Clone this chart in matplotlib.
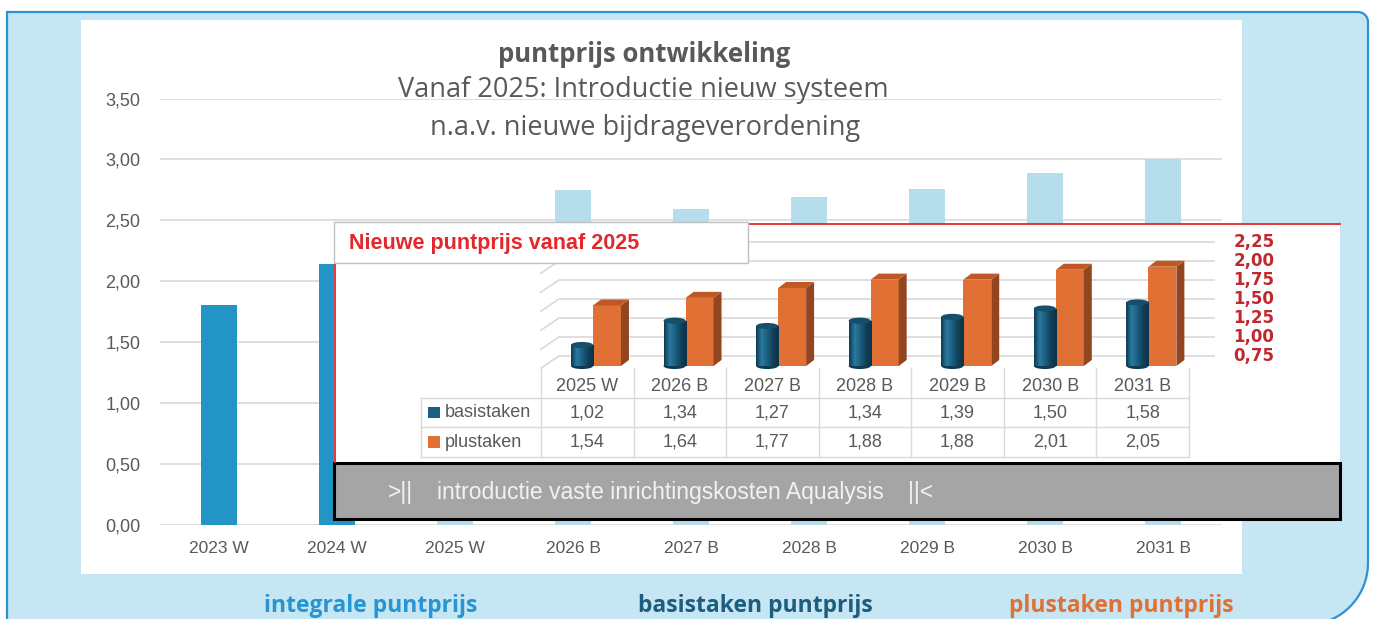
import numpy as np
import matplotlib.pyplot as plt
from matplotlib.patches import Rectangle, Polygon, Ellipse
from matplotlib.colors import LinearSegmentedColormap

W, H = 1375, 619

# hoofdgrafiek: integrale puntprijs
jaren = ["2023 W", "2024 W", "2025 W", "2026 B", "2027 B", "2028 B", "2029 B", "2030 B", "2031 B"]
integraal = [1.80, 2.14, 2.35, 2.75, 2.59, 2.69, 2.76, 2.89, 3.00]
y_ticks = [0.0, 0.5, 1.0, 1.5, 2.0, 2.5, 3.0, 3.5]

# inzet: nieuwe puntprijs vanaf 2025
jaren_nieuw = ["2025 W", "2026 B", "2027 B", "2028 B", "2029 B", "2030 B", "2031 B"]
basistaken = [1.02, 1.34, 1.27, 1.34, 1.39, 1.50, 1.58]
plustaken = [1.54, 1.64, 1.77, 1.88, 1.88, 2.01, 2.05]
inset_ticks = [0.75, 1.00, 1.25, 1.50, 1.75, 2.00, 2.25]

GRIJS = "#595959"
LIJN = "#d9d9d9"
BLAUW = "#2394c6"
LICHTBLAUW = "#b6ddec"
PETROL = "#1b5f82"
ORANJE = "#e07033"
ROOD = "#e3272b"
DONKERROOD = "#c0282e"
ACHTERGROND = "#c6e6f3"


def nl(v):
    return f"{v:.2f}".replace(".", ",")


fig = plt.figure(figsize=(W / 100, H / 100), dpi=100)


def px_axes(x0, y0, x1, y1):
    return fig.add_axes([x0 / W, 1 - y1 / H, (x1 - x0) / W, (y1 - y0) / H])


def px_overlay():
    a = px_axes(0, 0, W, H)
    a.set_xlim(0, W)
    a.set_ylim(H, 0)
    a.axis("off")
    return a


# achtergrond
bg = px_overlay()
pts = [(7, 625), (7, 12), (1358, 12)]
t = np.linspace(np.pi / 2, 0, 12)
pts += [(1358 + 10 * np.cos(a), 22 - 10 * np.sin(a)) for a in t]
t = np.linspace(0, np.pi / 2, 20)
pts += [(1306 + 62 * np.cos(a), 563 + 62 * np.sin(a)) for a in t]
bg.add_patch(Polygon(pts, closed=True, facecolor=ACHTERGROND, edgecolor="#2b93d1", lw=1.6))
bg.add_patch(Rectangle((81, 20), 1161, 554, facecolor="white", edgecolor="none"))

onder = [("integrale puntprijs", 371, "#2596d1"),
         ("basistaken puntprijs", 755, "#1c5d80"),
         ("plustaken puntprijs", 1121, ORANJE)]
for txt, x, c in onder:
    bg.text(x, 612, txt, ha="center", va="baseline", color=c, fontsize=16.5,
            fontweight="bold", family="Open Sans")

# hoofdgrafiek
ax = px_axes(160, 98.5, 1222, 524.5)
x = np.arange(len(jaren))
kleuren = [BLAUW, BLAUW] + [LICHTBLAUW] * (len(jaren) - 2)
ax.bar(x, integraal, width=0.31, color=kleuren, zorder=2)
ax.set_xlim(-0.5, len(jaren) - 0.5)
ax.set_ylim(0, 3.5)
ax.set_yticks(y_ticks)
ax.set_yticklabels([nl(v) for v in y_ticks])
ax.set_xticks(x)
ax.set_xticklabels(jaren)
ax.grid(axis="y", color=LIJN, lw=1.2, zorder=0)
ax.set_axisbelow(True)
for s in ax.spines.values():
    s.set_visible(False)
ax.tick_params(length=0, colors=GRIJS, labelsize=12.5)
ax.tick_params(axis="y", pad=14, labelsize=13)
ax.tick_params(axis="x", pad=12)
for lab in ax.get_xticklabels() + ax.get_yticklabels():
    lab.set_family("Liberation Sans")
ax.patch.set_alpha(0)

# overlay: titels, inzetpaneel, grijze balk
ov = px_overlay()
ov.text(644, 62, "puntprijs ontwikkeling", ha="center", va="baseline", color=GRIJS,
        fontsize=18.5, fontweight="bold", family="Open Sans")
ov.text(643, 97, "Vanaf 2025: Introductie nieuw systeem", ha="center", va="baseline",
        color=GRIJS, fontsize=19.5, family="Open Sans")
ov.text(645, 135, "n.a.v. nieuwe bijdrageverordening", ha="center", va="baseline",
        color=GRIJS, fontsize=19.5, family="Open Sans")

ov.add_patch(Rectangle((334, 224), 1006, 238, facecolor="white", edgecolor="none"))
ov.plot([748, 1340], [224, 224], color=ROOD, lw=1.3)
ov.plot([335, 335], [263, 462], color=ROOD, lw=1.3)

ov.add_patch(Rectangle((334, 463), 1006, 56, facecolor="#a5a5a5", edgecolor="black", lw=2.2))
ov.text(388, 492, ">||", ha="left", va="center", color="#f2f2f2", fontsize=16.5,
        family="Liberation Sans")
ov.text(437, 492, "introductie vaste inrichtingskosten Aqualysis", ha="left", va="center",
        color="#f2f2f2", fontsize=16.5, family="Liberation Sans")
ov.text(908, 492, "||<", ha="left", va="center", color="#f2f2f2", fontsize=16.5,
        family="Liberation Sans")

# inzet: pseudo-3D kolommen
ins = px_axes(541, 236, 1189, 372)
v_lo = 0.75 - (372 - 356) / 76
v_hi = 0.75 + (356 - 236) / 76
ins.axis("off")

diep_x, diep_y = 0.194, 0.16
for v in inset_ticks:
    ins.plot([0, diep_x, 7.27], [v - diep_y, v, v], color=LIJN, lw=1.2, clip_on=False, zorder=1)
    ins.text(7.48, v, nl(v), ha="left", va="center", color=DONKERROOD, fontsize=12,
             fontweight="bold", family="DejaVu Sans", clip_on=False)

vloer = 0.75 - 10 / 76
off = 0.125
dx, dy = 0.086, 0.079
cyl = LinearSegmentedColormap.from_list("cyl", ["#0e3b53", "#2a7aa0", "#1a5e80", "#123f58", "#0c3349"])
grad = np.linspace(0, 1, 64).reshape(1, -1)

for i in range(len(jaren_nieuw)):
    # plustaken: blok
    x0, x1 = i + 0.562, i + 0.864
    top = plustaken[i] - off
    ins.add_patch(Rectangle((x0, vloer), x1 - x0, top - vloer, facecolor=ORANJE,
                            edgecolor="none", zorder=3))
    ins.add_patch(Polygon([(x1, vloer), (x1 + dx, vloer + dy), (x1 + dx, top + dy), (x1, top)],
                          facecolor="#93451f", edgecolor="none", zorder=3))
    ins.add_patch(Polygon([(x0, top), (x0 + dx, top + dy), (x1 + dx, top + dy), (x1, top)],
                          facecolor="#bf5824", edgecolor="none", zorder=3))
    # basistaken: cilinder
    c0, c1 = i + 0.324, i + 0.562
    ctop = basistaken[i] - off
    ins.add_patch(Ellipse(((c0 + c1) / 2, vloer), c1 - c0, 0.08, facecolor="#0f3a52",
                          edgecolor="none", zorder=4))
    body = Rectangle((c0, vloer), c1 - c0, ctop - vloer, transform=ins.transData)
    im = ins.imshow(grad, extent=[c0, c1, vloer, ctop], aspect="auto", cmap=cyl, zorder=4)
    im.set_clip_path(body)
    ins.add_patch(Ellipse(((c0 + c1) / 2, ctop), c1 - c0, 0.08, facecolor="#164e6c",
                          edgecolor="none", zorder=5))

ins.set_xlim(0, 7)
ins.set_ylim(v_lo, v_hi)

# gegevenstabel
tab = px_axes(421, 368, 1189, 457)
lx = -(541 - 421) / 92.6
tab.set_xlim(lx, 7)
tab.set_ylim(3, 0)
tab.axis("off")
for k in range(len(jaren_nieuw) + 1):
    tab.plot([k, k], [0, 3], color=LIJN, lw=1, clip_on=False)
tab.plot([lx, lx], [1, 3], color=LIJN, lw=1, clip_on=False)
for r in [1, 2, 3]:
    tab.plot([lx, 7], [r, r], color=LIJN, lw=1, clip_on=False)

for i, jaar in enumerate(jaren_nieuw):
    tab.text(i + 0.5, 0.62, jaar, ha="center", va="center", color=GRIJS, fontsize=13,
             family="Liberation Sans")
    tab.text(i + 0.5, 1.5, nl(basistaken[i]), ha="center", va="center", color=GRIJS,
             fontsize=13, family="Liberation Sans")
    tab.text(i + 0.5, 2.5, nl(plustaken[i]), ha="center", va="center", color=GRIJS,
             fontsize=13, family="Liberation Sans")

for r, naam, kleur in [(1.5, "basistaken", PETROL), (2.5, "plustaken", ORANJE)]:
    tab.add_patch(Rectangle((lx + 7 / 92.6, r - 0.2), 12 / 92.6, 0.4, facecolor=kleur,
                            edgecolor="none", clip_on=False))
    tab.text(lx + 24 / 92.6, r, naam, ha="left", va="center", color=GRIJS, fontsize=13,
             family="Liberation Sans")

# titelvak van de inzet, boven de rasterlijnen
top_ov = px_overlay()
top_ov.add_patch(Rectangle((334, 222), 414, 41, facecolor="white", edgecolor="#bfbfbf", lw=1))
top_ov.text(349, 243, "Nieuwe puntprijs vanaf 2025", ha="left", va="center", color=ROOD,
            fontsize=15.5, fontweight="bold", family="Liberation Sans")

fig.savefig("out.png", dpi=100)
